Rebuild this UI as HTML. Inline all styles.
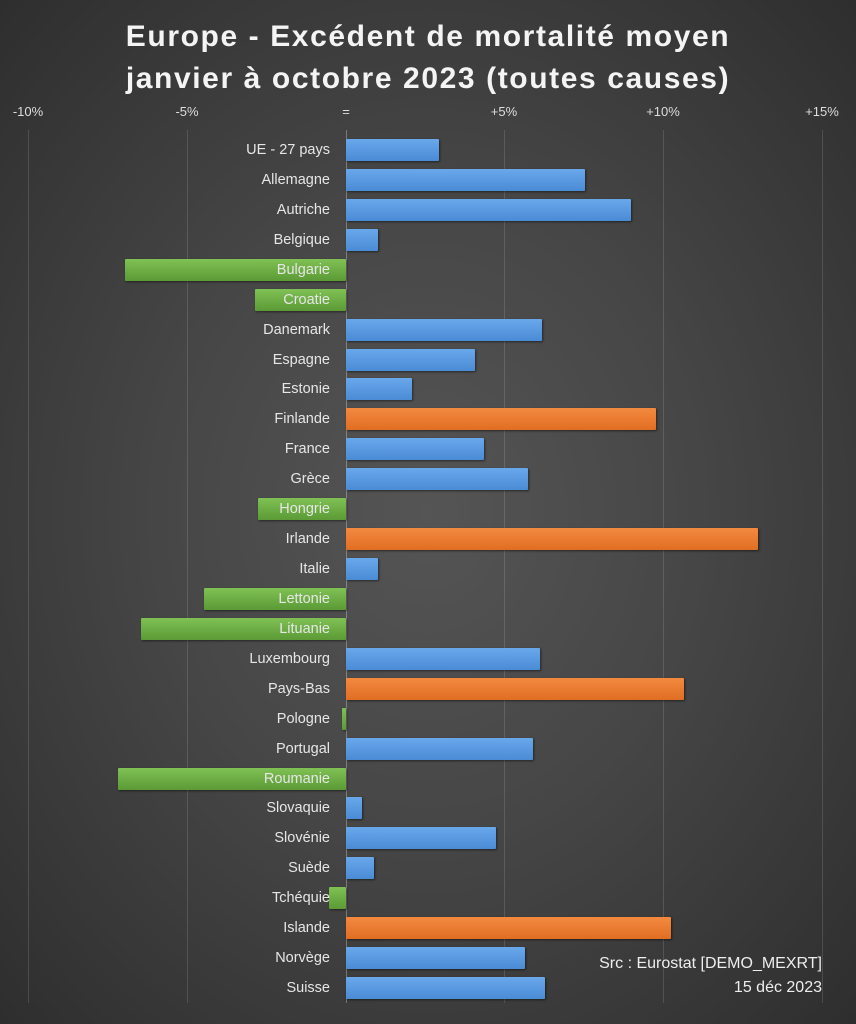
<!DOCTYPE html><html><head><meta charset="utf-8"><style>
body{margin:0;width:856px;height:1024px;overflow:hidden;font-family:"Liberation Sans",sans-serif;}
#c{position:relative;width:856px;height:1024px;background:radial-gradient(ellipse at 50% 50%,#555 0%,#464646 45%,#2e2e2e 100%);}
.t{position:absolute;left:0;width:856px;text-align:center;color:#f4f4f4;font-weight:bold;font-size:30px;letter-spacing:1.6px;}
.ax{position:absolute;top:104px;color:#ddd;font-size:13px;width:60px;margin-left:-30px;text-align:center;}
.g{position:absolute;top:130px;height:873px;width:1px;background:rgba(255,255,255,0.13);}
.b{position:absolute;height:22px;border-radius:1px;box-shadow:1px 1px 2px rgba(0,0,0,0.5);}
.bl{background:linear-gradient(#6aa8ec,#4a8bd6);}
.or{background:linear-gradient(#f38a40,#e06e22);}
.gr{background:linear-gradient(#80c155,#5b9a35);}
.l{position:absolute;right:526px;color:#e6e6e6;font-size:14.5px;line-height:22px;white-space:nowrap;}
.src{position:absolute;right:34px;color:#eee;font-size:16px;text-align:right;line-height:24px;}
</style></head><body><div id="c">
<div class="t" style="top:20px">Europe - Excédent de mortalité moyen</div>
<div class="t" style="top:62px">janvier à octobre 2023 (toutes causes)</div>
<div class="ax" style="left:28px">-10%</div><div class="ax" style="left:187px">-5%</div><div class="ax" style="left:346px">=</div><div class="ax" style="left:504px">+5%</div><div class="ax" style="left:663px">+10%</div><div class="ax" style="left:822px">+15%</div>
<div class="g" style="left:28px"></div><div class="g" style="left:187px"></div><div class="g" style="left:346px;background:rgba(255,255,255,0.3)"></div><div class="g" style="left:504px"></div><div class="g" style="left:663px"></div><div class="g" style="left:822px"></div>
<div id="bars"></div>
<div class="src" style="top:952px">Src : Eurostat [DEMO_MEXRT]<br>15 déc 2023</div>
</div>
<script>
var d=[["UE - 27 pays",439,"bl"],["Allemagne",585,"bl"],["Autriche",631,"bl"],["Belgique",378,"bl"],["Bulgarie",125,"gr"],["Croatie",255,"gr"],["Danemark",542,"bl"],["Espagne",475,"bl"],["Estonie",412,"bl"],["Finlande",656,"or"],["France",484,"bl"],["Grèce",528,"bl"],["Hongrie",258,"gr"],["Irlande",758,"or"],["Italie",378,"bl"],["Lettonie",204,"gr"],["Lituanie",141,"gr"],["Luxembourg",540,"bl"],["Pays-Bas",684,"or"],["Pologne",342,"gr"],["Portugal",533,"bl"],["Roumanie",118,"gr"],["Slovaquie",362,"bl"],["Slovénie",496,"bl"],["Suède",374,"bl"],["Tchéquie",329,"gr"],["Islande",671,"or"],["Norvège",525,"bl"],["Suisse",545,"bl"]];
var h="";d.forEach(function(r,i){var y=150+i*29.93-11;var x0=346,x1=r[1];var L=Math.min(x0,x1),W=Math.abs(x1-x0);
h+='<div class="b '+r[2]+'" style="left:'+L+'px;top:'+y+'px;width:'+W+'px"></div>';
h+='<div class="l" style="top:'+y+'px">'+r[0]+'</div>';});
document.getElementById("bars").innerHTML=h;
</script></body></html>
